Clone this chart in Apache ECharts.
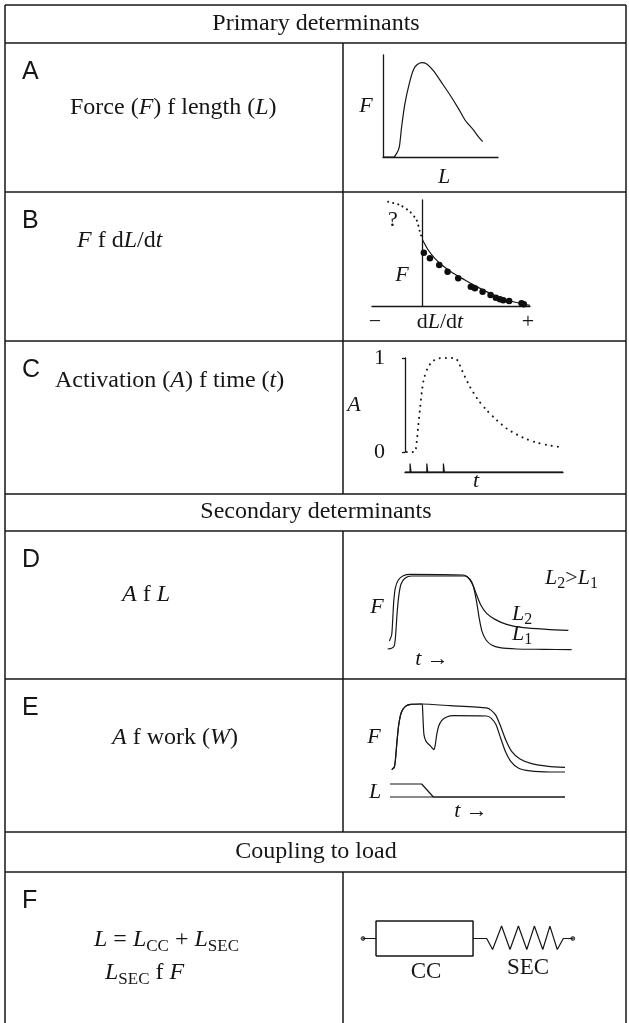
<!DOCTYPE html>
<html>
<head>
<meta charset="utf-8">
<script src="https://cdn.jsdelivr.net/npm/echarts/dist/echarts.min.js"></script>
<style>
  html, body { margin: 0; padding: 0; background: #fff; }
  #chart { width: 629px; height: 1023px; }
</style>
</head>
<body>
<div id="chart"></div>
<script>
// ---- data -------------------------------------------------------------
// A: force vs. length (relative units)
const lengthTension = [[0,0],[9,0],[11.9,3.6],[14.2,10],[16.2,29.7],[19.1,52.6],[22.9,72.2],[26.4,85.3],[29.3,90.2],[33.6,92.5],[38,91.2],[43.8,84.6],[51,72.9],[58.3,60.8],[65.5,47.7],[71.3,36.3],[78.6,26.5],[82.9,19.9],[86.7,15]];

// B: force vs. velocity (dL/dt)
const forceVelocityNeg = [[-27.2,98.4],[-18,95.3],[-10,89],[-4.7,81],[-2.1,70],[0,62.3]];
const forceVelocityFit = [[0,62.3],[4.5,52.8],[9.7,45],[16.3,37.7],[24.2,30.8],[33.5,24.5],[44,17.6],[54.6,11.3],[66.5,5.7],[79.6,1.9],[84.9,0.6]];
const forceVelocityMeasured = [[1,50.3],[5.8,45],[13.2,38.7],[19.8,32.4],[28.2,26.1],[38.2,18.2],[41.4,16.7],[47.5,13.5],[53.8,10.4],[58,7.9],[61.2,6.3],[63.8,5.4],[68.5,4.7],[78.3,2.5],[80.1,1.6]];

// C: activation vs. time, and the stimulus train
const activation = [[1.1,0],[4.2,0],[6.3,0],[7.4,0.106],[8.4,0.284],[9.5,0.461],[10.6,0.638],[12,0.78],[14.2,0.887],[16.9,0.957],[20.5,0.993],[24.3,1],[31.7,1],[33.8,0.957],[37,0.833],[41.2,0.691],[46.5,0.55],[51.8,0.443],[58.2,0.337],[64.5,0.248],[70.9,0.184],[77.2,0.135],[83.6,0.099],[91,0.071],[98.4,0.053]];
const stimulus = [[0,0],[3.2,0],[3.2,1],[3.8,0],[13.8,0],[13.8,1],[14.4,0],[24.3,0],[24.3,1],[24.9,0],[100,0]];
const activationTicks = [0, 1];

// D: force vs. time at two lengths
const forceL2 = [[2.3,11.7],[3.5,19.5],[4,36.8],[4.6,62.8],[5.4,80.1],[7,90.9],[9.6,96.5],[13.2,98.3],[41.2,97.4],[43.3,95.2],[45.6,88.7],[47.9,73.6],[50.4,58.4],[53.5,47.6],[57.9,39.8],[64,33.3],[72.8,29],[85.1,26.8],[96.5,25.5]];
const forceL1 = [[1.4,1.3],[3.5,2.2],[4.9,5.6],[5.6,19.5],[6.3,45.5],[7.2,69.3],[8.4,85.3],[10.5,93.1],[14,96.1],[42.1,96.1],[44.4,92.2],[46.5,82.3],[48.2,62.8],[49.6,41.1],[51.1,23.8],[53.2,13],[56.1,6.5],[60.5,3],[69.3,1.3],[83.3,0.9],[98.2,0.4]];

// E: force and length vs. time, isometric vs. shortening
const forceIsometric = [[1,4.8],[2.5,8.6],[3.2,21.4],[4,45.2],[5,69],[6.5,86.7],[8.8,95.2],[11.8,98.1],[18.1,98.6],[34.3,96.2],[55.2,92.9],[57.9,89.5],[60.6,81.9],[63.2,66.7],[66.1,47.6],[69.5,31],[74.3,20],[81,13.3],[90.5,9.5],[100,8.1]];
const forceShortening = [[1,4.8],[2.5,8.6],[3.2,21.4],[4,45.2],[5,69],[6.5,86.7],[8.8,95.2],[11.8,98.1],[18.1,98.6],[18.5,97.1],[18.9,76.2],[19.4,54.8],[20.6,45.2],[22.9,39],[25.1,33.3],[25.9,40.5],[26.7,54.8],[27.8,66.7],[29.5,74.8],[32.4,80],[36.2,81.9],[55.2,81.4],[57.9,78.1],[60.6,69],[63.2,50],[65.9,31],[69,16.7],[73.3,7.1],[80,2.9],[91.4,1.4],[100,1.4]];
const lengthIsometric = [[0,0],[100,0]];
const lengthShortening = [[0,1],[18.1,1],[24.8,0],[100,0]];

// F: contractile component in series with the elastic spring
const ccBox = [[6.2,-1],[52.4,-1],[52.4,1],[6.2,1],[6.2,-1]];
const leftLead = [[0,0],[6.2,0]];
const secSpring = [[52.4,0],[58.9,0],[61.7,-0.63],[66,0.71],[70,-0.63],[74,0.71],[78,-0.63],[81.6,0.71],[85.6,-0.63],[89,0.71],[92.5,-0.63],[95.4,0],[99.9,0]];
const terminals = [[0,0],[99.9,0]];

// ---- styling ----------------------------------------------------------
const ink = '#161616';
const SERIF = "'Liberation Serif','Times New Roman',serif";
const SANS = "'Liberation Sans',Arial,sans-serif";

// table rules
const W0 = 5, W1 = 626, MID = 343, BOTTOM = 1023;
const rowRules = [5, 43, 192, 341, 494, 531, 679, 832, 872];
const midSpans = [[43, 494], [531, 832], [872, BOTTOM]];

const graphics = [];
function rule(x1, y1, x2, y2) {
  graphics.push({ type: 'line', silent: true,
    shape: { x1, y1, x2, y2 }, style: { stroke: ink, lineWidth: 1.5 } });
}
rowRules.forEach(y => rule(W0, y, W1, y));
rule(W0, 5, W0, BOTTOM);
rule(W1, 5, W1, BOTTOM);
midSpans.forEach(s => rule(MID, s[0], MID, s[1]));

const rich = {
  i:   { fontFamily: SERIF, fontSize: 24, fontStyle: 'italic', fill: ink, color: ink },
  sub: { fontFamily: SERIF, fontSize: 17, padding: [13, 0, 0, 0], fill: ink, color: ink },
  ci:  { fontFamily: SERIF, fontSize: 22, fontStyle: 'italic', fill: ink, color: ink },
  csub:{ fontFamily: SERIF, fontSize: 16, padding: [12, 0, 0, 0], fill: ink, color: ink }
};
function txt(text, x, y, size, align, family, style) {
  graphics.push({ type: 'text', silent: true, x, y,
    style: { text, fill: ink, fontFamily: family || SERIF, fontSize: size,
      fontStyle: style || 'normal',
      align: align || 'left', verticalAlign: 'middle',
      textAlign: align || 'left', textVerticalAlign: 'middle', rich } });
}

// section headers
txt('Primary determinants', 316, 24, 24, 'center');
txt('Secondary determinants', 316, 512, 24, 'center');
txt('Coupling to load', 316, 852, 24, 'center');

// panel letters
[['A',72],['B',221],['C',370],['D',560],['E',708],['F',901]].forEach(p => txt(p[0], 22, p[1], 25, 'left', SANS));

// descriptions
txt('Force ({i|F}) f length ({i|L})', 70, 108, 24);
txt('{i|F} f d{i|L}/d{i|t}', 77, 241, 24);
txt('Activation ({i|A}) f time ({i|t})', 55, 381, 24);
txt('{i|A} f {i|L}', 122, 595, 24);
txt('{i|A} f work ({i|W})', 112, 738, 24);
txt('{i|L} = {i|L}{sub|CC} + {i|L}{sub|SEC}', 94, 940, 24);
txt('{i|L}{sub|SEC} f {i|F}', 105, 973, 24);

// plot annotations
txt('F', 366, 106, 22, 'center', SERIF, 'italic');
txt('L', 444, 177, 22, 'center', SERIF, 'italic');
txt('?', 393, 220, 22, 'center');
txt('F', 402, 275, 22, 'center', SERIF, 'italic');
txt('\u2212', 375, 322, 22, 'center');
txt('d{ci|L}/d{ci|t}', 440, 322, 22, 'center');
txt('+', 528, 322, 22, 'center');
txt('A', 354, 405, 22, 'center', SERIF, 'italic');
txt('t', 476, 481, 22, 'center', SERIF, 'italic');
txt('F', 377, 607, 22, 'center', SERIF, 'italic');
txt('{ci|t} \u2192', 432, 659, 22, 'center');
txt('{ci|L}{csub|2}>{ci|L}{csub|1}', 545, 578, 22, 'left');
txt('{ci|L}{csub|2}', 512, 614, 22, 'left');
txt('{ci|L}{csub|1}', 512, 634, 22, 'left');
txt('F', 374, 737, 22, 'center', SERIF, 'italic');
txt('L', 375, 792, 22, 'center', SERIF, 'italic');
txt('{ci|t} \u2192', 471, 811, 22, 'center');
txt('CC', 426, 972, 23, 'center');
txt('SEC', 528, 968, 23, 'center');

// ---- axes -------------------------------------------------------------
const lineAx = { show: true, lineStyle: { color: ink, width: 1.3 } };
function ax(grid, min, max, extra) {
  return Object.assign({ type: 'value', gridIndex: grid, min, max,
    axisLine: { show: false }, axisTick: { show: false },
    axisLabel: { show: false }, splitLine: { show: false } }, extra || {});
}
const grids = [
  { left: 383, top: 55,  width: 115, height: 102 },  // 0 A
  { left: 372, top: 200, width: 158, height: 106 },  // 1 B
  { left: 405, top: 358, width: 158, height: 94 },   // 2 C activation
  { left: 405, top: 455, width: 158, height: 17 },   // 3 C stimulus
  { left: 385, top: 573, width: 190, height: 77 },   // 4 D
  { left: 390, top: 703, width: 175, height: 70 },   // 5 E force
  { left: 390, top: 784, width: 175, height: 13 },   // 6 E length
  { left: 363, top: 921, width: 210, height: 35 }    // 7 F diagram
];
const xAxes = [
  ax(0, 0, 100, { axisLine: lineAx }),
  ax(1, -40, 85, { axisLine: Object.assign({ onZero: true }, lineAx) }),
  ax(2, 0, 100),
  ax(3, 0, 100, { axisLine: lineAx }),
  ax(4, 0, 100),
  ax(5, 0, 100),
  ax(6, 0, 100),
  ax(7, 0, 100)
];
const yAxes = [
  ax(0, 0, 100, { axisLine: lineAx }),
  ax(1, 0, 100, { axisLine: Object.assign({ onZero: true }, lineAx) }),
  ax(2, activationTicks[0], activationTicks[1], {
    interval: 1, offset: 11,
    axisLine: lineAx,
    axisTick: { show: true, length: 3, lineStyle: { color: ink, width: 1.3 } },
    axisLabel: { show: true, margin: 9, color: ink, fontFamily: SERIF, fontSize: 22 }
  }),
  ax(3, 0, 2),
  ax(4, 0, 100),
  ax(5, 0, 100),
  ax(6, 0, 1),
  ax(7, -1, 1)
];

// ---- series -----------------------------------------------------------
function curve(grid, data, extra) {
  return Object.assign({ type: 'line', xAxisIndex: grid, yAxisIndex: grid, data,
    showSymbol: false, smooth: 0.25, silent: true, clip: false,
    lineStyle: { color: ink, width: 1.2 } }, extra || {});
}
const dotted = (gap) => ({ color: ink, width: 2, type: [0.1, gap], cap: 'round' });

const series = [
  curve(0, lengthTension),
  curve(1, forceVelocityNeg, { lineStyle: dotted(5) }),
  curve(1, forceVelocityFit),
  { type: 'scatter', xAxisIndex: 1, yAxisIndex: 1, data: forceVelocityMeasured,
    symbolSize: 6.5, itemStyle: { color: '#0d0d0d', opacity: 1 }, silent: true },
  curve(2, activation, { lineStyle: dotted(6) }),
  curve(3, stimulus, { smooth: false }),
  curve(4, forceL2),
  curve(4, forceL1),
  curve(5, forceIsometric, { smooth: 0.2 }),
  curve(5, forceShortening, { smooth: 0.2 }),
  curve(6, lengthIsometric, { smooth: false }),
  curve(6, lengthShortening, { smooth: false }),
  curve(7, ccBox, { smooth: false, lineStyle: { color: ink, width: 1.5 } }),
  curve(7, leftLead, { smooth: false }),
  curve(7, secSpring, { smooth: false }),
  { type: 'scatter', xAxisIndex: 7, yAxisIndex: 7, data: terminals,
    symbolSize: 4, itemStyle: { color: '#555', borderColor: ink, borderWidth: 0.8 }, silent: true }
];

const chart = echarts.init(document.getElementById('chart'), null, { renderer: 'canvas' });
chart.setOption({
  animation: false,
  backgroundColor: '#ffffff',
  grid: grids,
  xAxis: xAxes,
  yAxis: yAxes,
  series,
  graphic: graphics
});
</script>
</body>
</html>
